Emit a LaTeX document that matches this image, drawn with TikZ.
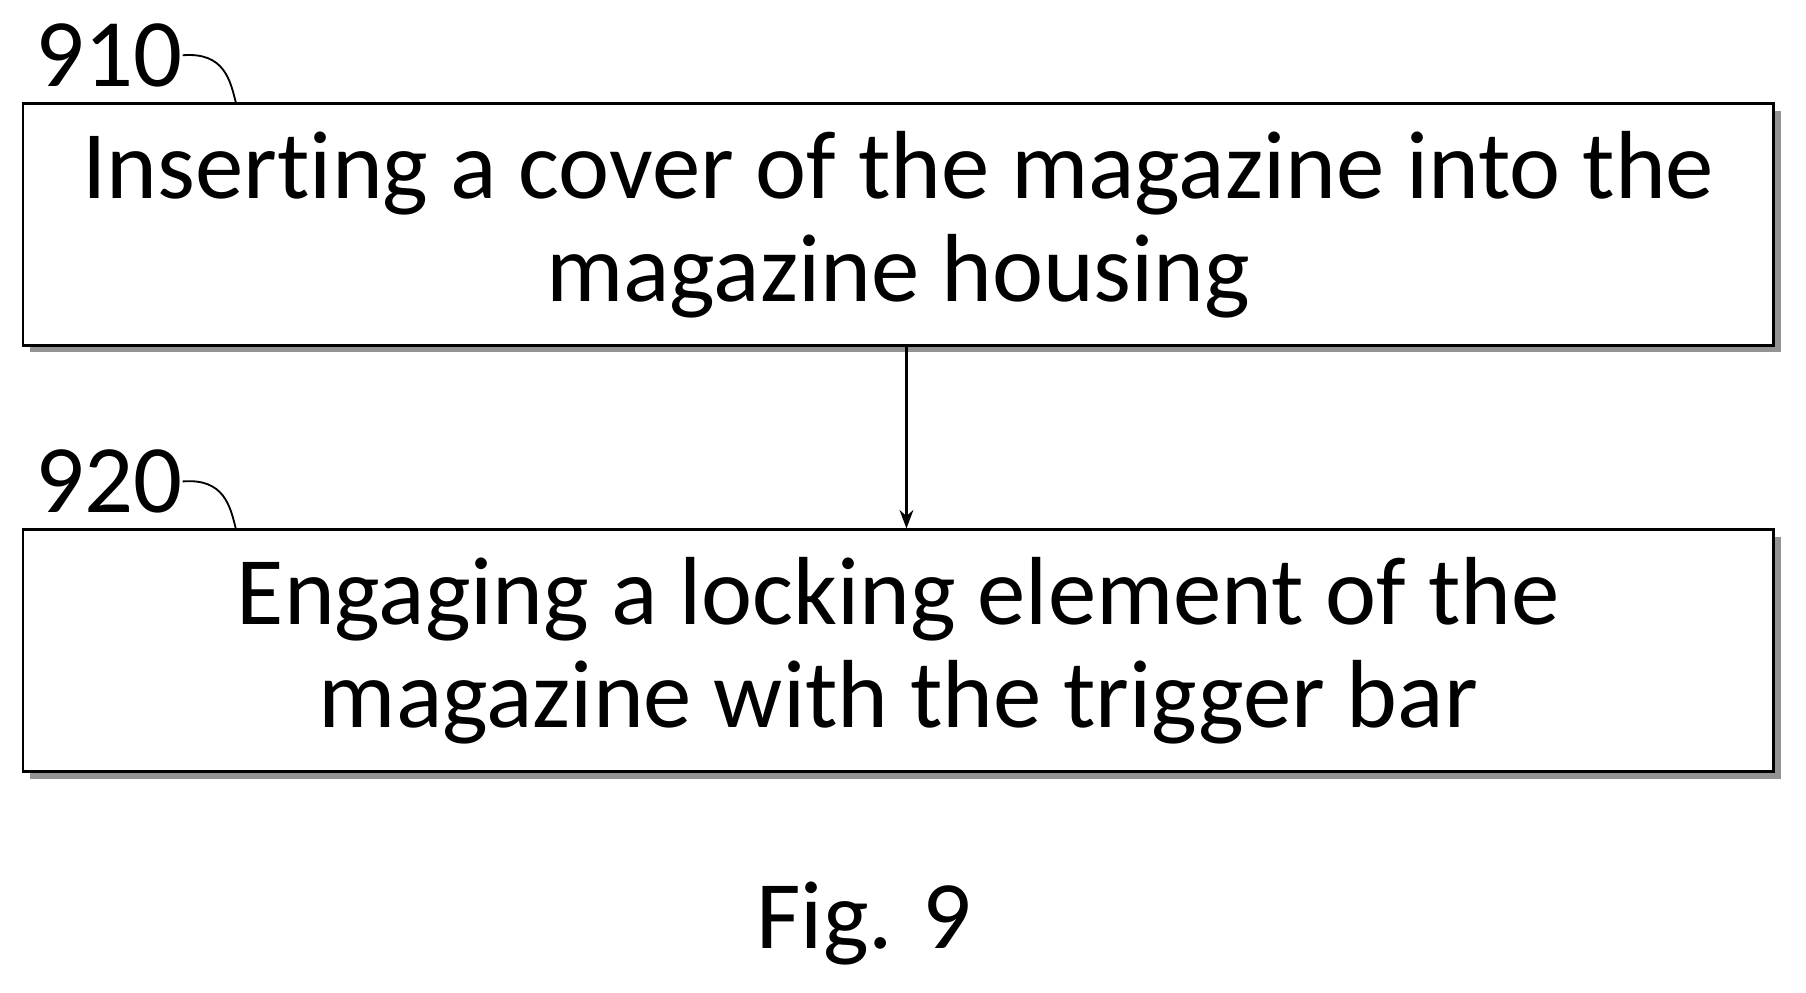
\documentclass[tikz,border=0pt]{standalone}
\usepackage{fontspec}
\setmainfont{Carlito}[Ligatures={NoCommon}]
\usetikzlibrary{positioning,arrows.meta}

\begin{document}
\begin{tikzpicture}[
    x=0.5pt, y=-0.5pt,
    stepbox/.style={rectangle, draw, line width=1.2pt, fill=white, minimum width=760pt, minimum height=105pt, align=center, font=\fontsize{42}{45}\selectfont, inner sep=0pt},
    shade/.style={fill=gray!85, draw=none},
    arrow/.style={-{Stealth[length=8pt,width=6pt]}, line width=1pt},
    ref/.style={font=\fontsize{42}{42}\selectfont, inner sep=0pt}
]
    \useasboundingbox (0,0) rectangle (1568,862);
    % shadows
    \fill[shade] (26,96) rectangle (1546,306);
    \fill[shade] (26,466) rectangle (1546,676);
    % steps
    \node[stepbox] (insert) at (780,195) {Inserting a cover of the magazine into the\\magazine housing};
    \node[stepbox] (engage) at (780,565) {Engaging a locking element of the\\magazine with the trigger bar};
    \draw[arrow] (insert.south -| 787,0) -- (engage.north -| 787,0);
    % reference numerals
    \node[ref, anchor=west] (n910) at (30,48) {910};
    \node[ref, anchor=west] (n920) at (30,418) {920};
    \draw[line width=0.8pt] (n910.east) .. controls (195,45) and (200,70) .. (205,90);
    \draw[line width=0.8pt] (n920.east) .. controls (195,415) and (200,440) .. (205,460);
    \node[ref] (fig) at (750,802) {Fig. 9};
\end{tikzpicture}
\end{document}
